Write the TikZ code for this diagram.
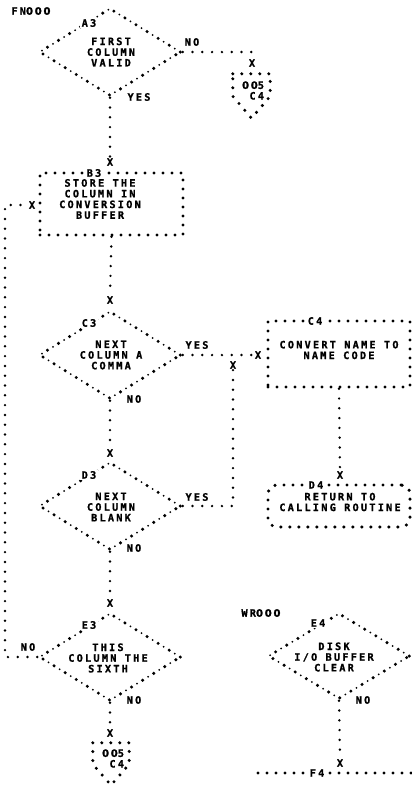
\documentclass[tikz,border=0pt]{standalone}
\usepackage{fontspec}
\newfontfamily\pf{DejaVu Sans Mono Bold}[LetterSpace=22, FakeBold=1.2]
\newfontfamily\pz{DejaVu Sans Bold}[LetterSpace=16, FakeBold=1.2]
\usetikzlibrary{shapes.geometric,calc}
\begin{document}
\begin{tikzpicture}[x=1pt,y=-1pt,
 txt/.style={font=\pf\fontsize{10.2}{10.7}\selectfont, inner sep=0.5pt, align=center},
 lbl/.style={txt, fill=white, inner sep=1.5pt},
 xm/.style={txt, inner sep=1pt},
 conn/.style={draw, line width=2.7pt, line cap=round, dash pattern=on 0pt off 9.8pt},
 bdr/.style={draw, line width=3.4pt, line cap=round, dash pattern=on 0pt off 9pt},
 dia/.style={diamond, minimum width=142pt, minimum height=88pt, inner sep=0pt, draw, line width=3.4pt, line cap=round, dash pattern=on 0pt off 13pt, preaction={draw, line width=2pt, line cap=round, dash pattern=on 0pt off 13pt, dash phase=6.5pt}},
 box/.style={rectangle, inner sep=0pt, bdr},
]
\fill[white] (0,0) rectangle (412,788);
\useasboundingbox (0,0) rectangle (412,788);

% ---- A3
\node[txt] (fn) at (31,11) {FN{\pz 000}};
\node[dia] (a3) at (110,52) {};
\node[txt] (a3t) at (111,52) {FIRST\\COLUMN\\VALID};
\node[lbl] (a3l) at (89,23) {A3};
\node[txt] (a3no) at (192,42) {NO};
\node[txt] (a3yes) at (139,97) {YES};

% off-page connector 1
\node[xm] (xa) at (252,63) {X};
\node[minimum width=37pt, minimum height=22pt, inner sep=0pt] (p1) at (251.5,85) {};
\draw[bdr] (p1.north west) -- (p1.north east) -- (p1.south east) -- ($(p1.south)+(0,22)$) -- (p1.south west) -- cycle;
\node[txt, align=right] (p1t) at (253,90.5) {{\pz 00}5\\C4};

% ---- B3
\node[xm] (xb3t) at (110,162) {X};
\node[box, minimum width=143pt, minimum height=62pt] (b3) at (111.5,204) {};
\node[lbl] (b3l) at (94,173) {B3};
\node[txt] (b3t) at (100,199) {STORE THE\\COLUMN IN\\CONVERSION\\BUFFER};
\node[xm] (xb3l) at (32,205) {X};

% ---- C3
\node[xm] (xc3) at (110,300) {X};
\node[dia] (c3) at (110,355) {};
\node[txt] (c3t) at (111,355) {NEXT\\COLUMN A\\COMMA};
\node[lbl] (c3l) at (89,323) {C3};
\node[txt] (c3yes) at (197,345) {YES};
\node[txt] (c3no) at (134,399) {NO};

% ---- C4
\node[xm] (xc4) at (258,355) {X};
\node[box, minimum width=142pt, minimum height=66pt] (c4) at (339,354) {};
\node[lbl] (c4l) at (315,321) {C4};
\node[txt] (c4t) at (339,350) {CONVERT NAME TO\\NAME CODE};
\node[xm] (xmg) at (233,365) {X};

% ---- D3
\node[xm] (xd3) at (110,453) {X};
\node[dia] (d3) at (110,506) {};
\node[txt] (d3t) at (111,507) {NEXT\\COLUMN\\BLANK};
\node[lbl] (d3l) at (89,475) {D3};
\node[txt] (d3yes) at (197,497) {YES};
\node[txt] (d3no) at (134,548) {NO};

% ---- D4
\node[xm] (xd4) at (340,475) {X};
\node[box, rounded corners=9pt, minimum width=142pt, minimum height=42pt] (d4) at (339,506) {};
\node[lbl] (d4l) at (316,485) {D4};
\node[txt] (d4t) at (340,502) {RETURN TO\\CALLING ROUTINE};

% ---- E3
\node[xm] (xe3) at (110,603) {X};
\node[dia] (e3) at (110,657) {};
\node[txt] (e3t) at (108,658) {THIS\\COLUMN THE\\SIXTH};
\node[lbl] (e3l) at (89,625) {E3};
\node[txt] (e3nol) at (28,647) {NO};
\node[txt] (e3no) at (134,700) {NO};

% off-page connector 2
\node[xm] (xp2) at (110,733) {X};
\node[minimum width=36pt, minimum height=21pt, inner sep=0pt] (p2) at (111,753.5) {};
\draw[bdr] (p2.north west) -- (p2.north east) -- (p2.south east) -- ($(p2.south)+(0,21)$) -- (p2.south west) -- cycle;
\node[txt, align=right] (p2t) at (113,758.5) {{\pz 00}5\\C4};

% ---- E4
\node[txt] (wr) at (261,613) {WR{\pz 000}};
\node[dia, minimum height=86pt] (e4) at (339,656) {};
\node[txt] (e4t) at (334,657) {DISK\\I/O BUFFER\\CLEAR};
\node[lbl] (e4l) at (318,623) {E4};
\node[txt] (e4no) at (363,700) {NO};

% ---- F4
\node[xm] (xf4) at (340,763) {X};
\coordinate (f4a) at (258,773);
\coordinate (f4b) at (414,773);
\draw[bdr] (f4a) -- (f4b);
\node[lbl] (f4l) at (317,773) {F4};

% ---- connectors
\draw[conn] (a3.east) -| (xa.north);
\draw[conn] (a3.south) -- (xb3t.north);
\draw[conn] (b3.south) -- (xc3.north);
\draw[conn] (c3.east) -- (xc4.west);
\draw[conn] (c3.south) -- (xd3.north);
\draw[conn] (d3.east) -| (xmg.south);
\draw[conn] (d3.south) -- (xe3.north);
\coordinate (lpa) at (5,657);
\coordinate (lpb) at (5,205);
\draw[conn] (e3.west) -- (lpa) -- (lpb) -- (xb3l.west);
\draw[conn] (e3.south) -- (xp2.north);
\draw[conn] (c4.south) -- (xd4.north);
\draw[conn] (e4.south) -- (xf4.north);
\end{tikzpicture}
\end{document}
